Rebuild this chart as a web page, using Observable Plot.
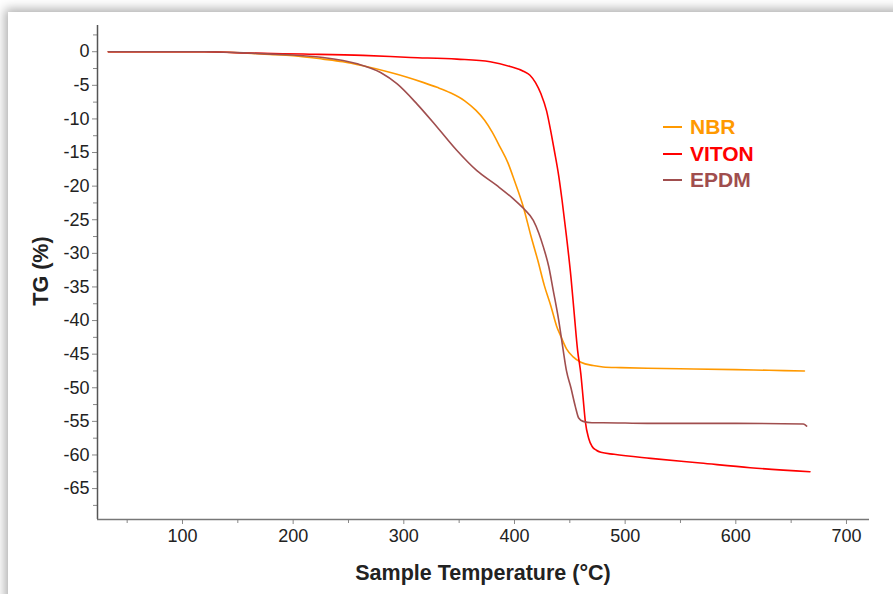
<!DOCTYPE html>
<html>
<head>
<meta charset="utf-8">
<script src="https://cdn.jsdelivr.net/npm/d3@7"></script>
<script src="https://cdn.jsdelivr.net/npm/@observablehq/plot@0.6"></script>
<style>
  html, body { margin: 0; padding: 0; background: #ffffff; }
  body { width: 893px; height: 594px; position: relative; overflow: hidden; font-family: "Liberation Sans", Arial, sans-serif; }
  #card { position: absolute; left: 8px; top: 12px; width: 920px; height: 620px; background: #fff;
          box-shadow: -3px -3px 10px rgba(0,0,0,0.32); }
  #chart { position: absolute; left: 0; top: 0; }
  #legend { position: absolute; left: 663px; top: 114px; font-weight: bold; font-size: 21px; line-height: 26.5px; }
  .item { display: flex; align-items: center; }
  .sw { display: inline-block; width: 19px; height: 2px; margin-right: 8px; }
</style>
</head>
<body>
<div id="card"></div>
<div id="chart"></div>
<div id="legend"></div>
<script>
// Series names and colours
const seriesNames = ["NBR", "VITON", "EPDM"];
const seriesColors = ["#FF9900", "#FF0000", "#A04E4E"];

// Temperature (°C) and TG (%) readings for each series
const nbrT = [33, 120, 179, 200, 227, 245, 263, 288, 303, 318, 330, 342, 355, 365, 373, 380, 387, 394, 400, 408, 415, 421, 427, 433, 438, 442, 447, 453, 460, 471, 480, 496, 520, 562, 600, 630, 662];
const nbrV = [0, 0, -0.4, -0.6, -1.1, -1.5, -2.1, -3.1, -3.8, -4.6, -5.3, -6.1, -7.3, -8.7, -10.2, -12.0, -14.2, -16.5, -19.2, -23.1, -27.5, -31.0, -34.8, -37.9, -40.8, -42.4, -44.2, -45.4, -46.2, -46.7, -46.9, -47.0, -47.1, -47.2, -47.3, -47.4, -47.5];

const vitonT = [33, 120, 160, 209, 263, 306, 348, 378, 396, 408, 414, 419, 424, 429, 433, 436, 440, 443, 447, 451, 454, 457, 460, 462, 464, 467, 470, 474, 478, 490, 523, 568, 613, 667];
const vitonV = [0, 0, -0.2, -0.35, -0.55, -0.85, -1.1, -1.5, -2.2, -2.9, -3.5, -4.6, -6.3, -8.8, -12.0, -14.7, -18.5, -22.1, -27.5, -33.5, -39.0, -44.4, -48.0, -51.5, -55.0, -57.5, -58.7, -59.3, -59.6, -59.9, -60.5, -61.2, -61.9, -62.5];

const epdmT = [33, 120, 159, 200, 227, 258, 279, 294, 312, 330, 348, 366, 384, 399, 408, 417, 422, 426, 431, 435, 440, 444, 447, 451, 455, 458, 462, 470, 480, 520, 600, 661, 664];
const epdmV = [0, 0, -0.2, -0.5, -0.85, -1.8, -3.1, -4.8, -7.8, -11.2, -14.7, -17.7, -19.9, -21.9, -23.3, -25.1, -27.0, -29.0, -32.0, -35.5, -40.0, -44.4, -47.5, -50.0, -52.8, -54.5, -55.0, -55.2, -55.2, -55.3, -55.3, -55.4, -55.7];

// Axis ticks
const xMajor = [100, 200, 300, 400, 500, 600, 700];
const xMinor = [50, 150, 250, 350, 450, 550, 650];
const yMajor = [0, -5, -10, -15, -20, -25, -30, -35, -40, -45, -50, -55, -60, -65];
const yMinor = [2.5, -2.5, -7.5, -12.5, -17.5, -22.5, -27.5, -32.5, -37.5, -42.5, -47.5, -52.5, -57.5, -62.5, -67.5];

const xDomain = [23.2, 720.8];
const yDomain = [-69.6, 3.9];

const data = [];
[[nbrT, nbrV], [vitonT, vitonV], [epdmT, epdmV]].forEach(([ts, vs], i) => {
  ts.forEach((t, j) => data.push({series: seriesNames[i], t, v: vs[j]}));
});

const chart = Plot.plot({
  width: 893,
  height: 594,
  marginLeft: 97,
  marginRight: 24,
  marginTop: 25,
  marginBottom: 75,
  style: {background: "transparent", fontFamily: "'Liberation Sans', Arial, sans-serif", fontSize: "16px", color: "#222"},
  x: {domain: xDomain, label: null},
  y: {domain: yDomain, label: null},
  color: {domain: seriesNames, range: seriesColors},
  marks: [
    Plot.axisX({ticks: xMinor, tickSize: 4, text: null, stroke: "#888", label: null}),
    Plot.axisX({ticks: xMajor, tickSize: 5, tickPadding: 5, stroke: "#888", fill: "#222", fontSize: 18, label: null, tickFormat: d => String(d)}),
    Plot.axisY({ticks: yMinor, tickSize: 4, text: null, stroke: "#888", label: null}),
    Plot.axisY({ticks: yMajor, tickSize: 5, tickPadding: 3, stroke: "#888", fill: "#222", fontSize: 18, label: null, tickFormat: d => String(d)}),
    Plot.ruleX([xDomain[0]], {stroke: "#555", strokeWidth: 1.5}),
    Plot.ruleY([yDomain[0]], {stroke: "#777", strokeWidth: 1.5}),
    Plot.line(data, {x: "t", y: "v", z: "series", stroke: "series", strokeWidth: 1.6, curve: "monotone-x"})
  ]
});
document.getElementById("chart").appendChild(chart);

// Axis titles as SVG text
const svg = d3.select(chart.tagName === "svg" ? chart : chart.querySelector("svg"));
svg.append("text").attr("x", 483).attr("y", 580).attr("text-anchor", "middle")
  .attr("font-weight", "bold").attr("font-size", 21.5).attr("fill", "#222").text("Sample Temperature (°C)");
svg.append("text").attr("transform", "translate(48,271) rotate(-90)").attr("text-anchor", "middle")
  .attr("font-weight", "bold").attr("font-size", 21.5).attr("fill", "#222").text("TG (%)");

// Legend
const legend = document.getElementById("legend");
seriesNames.forEach((name, i) => {
  const item = document.createElement("div");
  item.className = "item";
  item.style.color = seriesColors[i];
  const sw = document.createElement("span");
  sw.className = "sw";
  sw.style.background = seriesColors[i];
  item.appendChild(sw);
  item.appendChild(document.createTextNode(name));
  legend.appendChild(item);
});
</script>
</body>
</html>
